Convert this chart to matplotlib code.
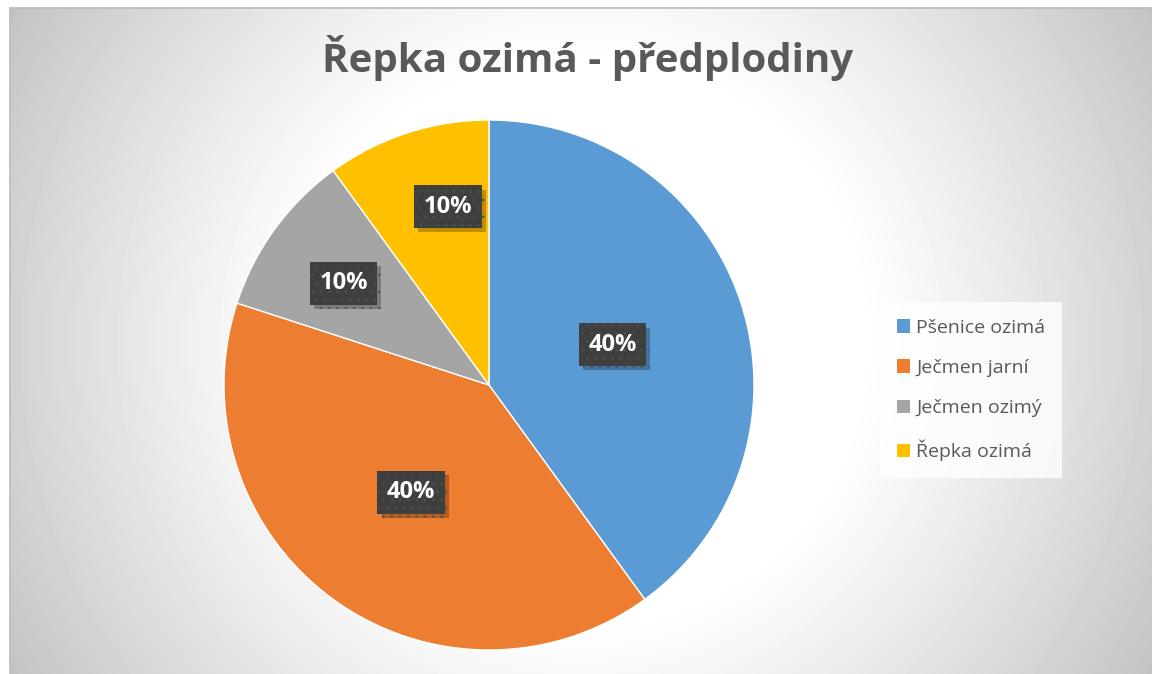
import numpy as np
import matplotlib.pyplot as plt
from matplotlib import patheffects as pe

plt.rcParams['font.family'] = ['Open Sans', 'DejaVu Sans']
plt.rcParams['hatch.linewidth'] = 0.6

# data
title = "Řepka ozimá - předplodiny"
crops = ["Pšenice ozimá", "Ječmen jarní", "Ječmen ozimý", "Řepka ozimá"]
shares = [40, 40, 10, 10]
colors = ["#5B9BD5", "#ED7D31", "#A5A5A5", "#FFC000"]

W, H = 1152, 674
fig = plt.figure(figsize=(W / 100, H / 100), dpi=100)
fig.patch.set_facecolor("white")

# background panel with radial gradient
bx0, by0 = 10, 8          # panel starts here (pixels from left / top)
pw, ph = W - bx0, H - by0
bg = fig.add_axes([bx0 / W, 0, pw / W, ph / H])
yy, xx = np.mgrid[0:ph, 0:pw]
d = np.hypot(xx - (581 - bx0), yy - (341 - by0))
t = np.clip((d - 280) / (d.max() - 280), 0, 1) ** 1.1
grad = 1.0 - 0.235 * t
bg.imshow(grad, cmap="gray", vmin=0, vmax=1, aspect="auto",
          extent=[0, pw, ph, 0], interpolation="bilinear")
bg.set_xticks([])
bg.set_yticks([])
for s in ["right", "bottom"]:
    bg.spines[s].set_visible(False)
for s in ["left", "top"]:
    bg.spines[s].set_color("#BBBBBB")
    bg.spines[s].set_linewidth(1.2)

fig.text(588 / W, 1 - 58 / H, title, ha="center", va="center",
         fontsize=29, fontweight="bold", color="#595959")

# pie
cx, cy, r = 489, 385, 265
ax = fig.add_axes([(cx - r) / W, (H - cy - r) / H, 2 * r / W, 2 * r / H])
wedges, _ = ax.pie(shares, colors=colors, startangle=90, counterclock=False,
                   radius=1, wedgeprops=dict(edgecolor="white", linewidth=1))
ax.set_xlim(-1, 1)
ax.set_ylim(-1, 1)
ax.set_aspect("equal")

# data labels (radius and angle nudge per label)
label_r = [0.49, 0.5, 0.67, 0.69]
label_da = [0, 0, 1, -5]
for w, v, lr, da in zip(wedges, shares, label_r, label_da):
    mid = np.deg2rad((w.theta1 + w.theta2) / 2 + da)
    txt = ax.text(lr * np.cos(mid), lr * np.sin(mid), f"{v}%",
                  ha="center", va="center", fontsize=17, fontweight="bold",
                  color="white",
                  bbox=dict(boxstyle="square,pad=0.4", fc="#3F3F3F",
                            ec="#505050", lw=0, hatch=".."))
    txt.get_bbox_patch().set_path_effects([
        pe.SimplePatchShadow(offset=(3, -3), shadow_rgbFace="black", alpha=0.25),
        pe.Normal()])

leg = fig.legend(wedges, crops, loc="center",
                 bbox_to_anchor=(971 / W, 1 - 390 / H),
                 fontsize=14, labelcolor="#595959", frameon=True,
                 fancybox=False, handlelength=0.7, handleheight=0.7,
                 handletextpad=0.3, labelspacing=1.15, borderpad=0.85)
leg.get_frame().set_facecolor((1, 1, 1, 0.15))
leg.get_frame().set_edgecolor("none")
for h in leg.legend_handles:
    h.set_edgecolor("none")

fig.savefig("out.png", dpi=100)
